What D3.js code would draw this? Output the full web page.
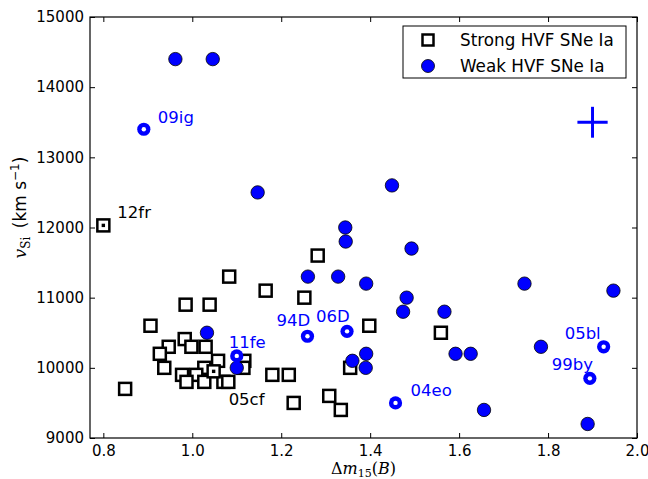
<!DOCTYPE html>
<html>
<head>
<meta charset="utf-8">
<script src="https://cdn.jsdelivr.net/npm/d3@7"></script>
<style>
  body { margin: 0; background: #fff; }
  svg text { font-family: "DejaVu Sans", sans-serif; }
</style>
</head>
<body>
<div id="chart"></div>
<script>
// Strong HVF SNe Ia: [dm15, vSi]
const strongX = [1.083, 1.165, 0.985, 1.039, 0.906, 0.983, 0.947, 0.998, 1.030, 0.927,
  1.058, 1.117, 1.115, 0.937, 1.027, 0.977, 1.009, 0.987, 1.027, 1.070, 1.081, 1.180,
  1.217, 1.228, 0.849, 1.282, 1.252, 1.398, 1.559, 1.355, 1.308, 1.334];
const strongY = [11300, 11100, 10900, 10900, 10600, 10410, 10300, 10300, 10300, 10200,
  10100, 10100, 10000, 10000, 10000, 9900, 9900, 9800, 9800, 9800, 9800, 9900,
  9900, 9500, 9700, 11600, 11000, 10600, 10500, 10000, 9600, 9400];

// Weak HVF SNe Ia
const weakX = [0.962, 1.046, 1.147, 1.344, 1.345, 1.449, 1.493, 1.260, 1.328, 1.391,
  1.482, 1.474, 1.567, 1.391, 1.390, 1.360, 1.592, 1.626, 1.656, 1.747, 1.947, 1.784,
  1.889, 1.033, 1.100];
const weakY = [14400, 14400, 12500, 12000, 11800, 12600, 11700, 11300, 11300, 11200,
  11000, 10800, 10800, 10200, 10000, 10100, 10200, 10200, 9400, 11200, 11100, 10300,
  9200, 10500, 10000];

// labelled objects
const strongLabels = [
  { name: '12fr', x: 0.800, y: 12030, dx: 14, dy: -7 },
  { name: '05cf', x: 1.048, y: 9950, dx: 15, dy: 34 }
];
const weakLabels = [
  { name: '09ig', x: 0.891, y: 13400, dx: 14, dy: -6 },
  { name: '11fe', x: 1.100, y: 10170, dx: -8, dy: -8 },
  { name: '94D', x: 1.259, y: 10450, dx: -31, dy: -10 },
  { name: '06D', x: 1.348, y: 10520, dx: -31, dy: -9 },
  { name: '04eo', x: 1.457, y: 9500, dx: 15, dy: -7 },
  { name: '05bl', x: 1.925, y: 10300, dx: -39, dy: -8 },
  { name: '99by', x: 1.894, y: 9850, dx: -38, dy: -8 }
];

// typical error bar
const errX = 1.9, errY = 13500, errDx = 0.034, errDy = 220;

const xTicks = [0.8, 1.0, 1.2, 1.4, 1.6, 1.8, 2.0];
const yTicks = [9000, 10000, 11000, 12000, 13000, 14000, 15000];

const width = 648, height = 479;
const margin = { top: 17, right: 11, bottom: 41, left: 90 };

const svg = d3.select('#chart').append('svg')
  .attr('width', width)
  .attr('height', height);

const x = d3.scaleLinear().domain([0.77, 2.0]).range([margin.left, width - margin.right]);
const y = d3.scaleLinear().domain([9000, 15000]).range([height - margin.bottom, margin.top]);

const blue = '#0000ff';

// Axes with inward ticks
const tickLen = 5;
svg.append('g')
  .attr('transform', `translate(0,${y(9000)})`)
  .call(d3.axisBottom(x).tickValues(xTicks).tickFormat(d3.format('.1f')).tickSizeInner(-tickLen).tickSizeOuter(0).tickPadding(7))
  .call(g => g.select('.domain').remove())
  .call(g => g.selectAll('text').attr('font-size', '15px').attr('fill', '#000'));

svg.append('g')
  .attr('transform', `translate(0,${y(15000)})`)
  .call(d3.axisTop(x).tickValues(xTicks).tickFormat('').tickSizeInner(-tickLen).tickSizeOuter(0))
  .call(g => g.select('.domain').remove());

svg.append('g')
  .attr('transform', `translate(${x(0.77)},0)`)
  .call(d3.axisLeft(y).tickValues(yTicks).tickFormat(d3.format('d')).tickSizeInner(-tickLen).tickSizeOuter(0).tickPadding(6))
  .call(g => g.select('.domain').remove())
  .call(g => g.selectAll('text').attr('font-size', '15px').attr('fill', '#000'));

svg.append('g')
  .attr('transform', `translate(${x(2.0)},0)`)
  .call(d3.axisRight(y).tickValues(yTicks).tickFormat('').tickSizeInner(-tickLen).tickSizeOuter(0))
  .call(g => g.select('.domain').remove());

// frame
svg.append('rect')
  .attr('x', x(0.77)).attr('y', y(15000))
  .attr('width', x(2.0) - x(0.77)).attr('height', y(9000) - y(15000))
  .attr('fill', 'none').attr('stroke', '#000').attr('stroke-width', 1.2);

// Strong: open squares
const sq = 12;
const strong = strongX.map((d, i) => ({ x: d, y: strongY[i] }));
svg.append('g').selectAll('rect')
  .data(strong.concat(strongLabels))
  .join('rect')
  .attr('x', d => x(d.x) - sq / 2)
  .attr('y', d => y(d.y) - sq / 2)
  .attr('width', sq).attr('height', sq)
  .attr('fill', '#fff').attr('stroke', '#000').attr('stroke-width', 2.5);

svg.append('g').selectAll('rect')
  .data(strongLabels)
  .join('rect')
  .attr('x', d => x(d.x) - 1.7)
  .attr('y', d => y(d.y) - 1.7)
  .attr('width', 3.4).attr('height', 3.4)
  .attr('fill', '#000');

// Weak: filled blue circles
const weak = weakX.map((d, i) => ({ x: d, y: weakY[i] }));
svg.append('g').selectAll('circle')
  .data(weak)
  .join('circle')
  .attr('cx', d => x(d.x)).attr('cy', d => y(d.y))
  .attr('r', 6.7)
  .attr('fill', blue).attr('stroke', '#000').attr('stroke-width', 0.8);

// labelled weak: blue rings
const rings = svg.append('g').selectAll('g')
  .data(weakLabels)
  .join('g');
rings.append('circle')
  .attr('cx', d => x(d.x)).attr('cy', d => y(d.y))
  .attr('r', 6.6).attr('fill', blue);
rings.append('circle')
  .attr('cx', d => x(d.x)).attr('cy', d => y(d.y))
  .attr('r', 2.2).attr('fill', '#fff');

// labels
svg.append('g').selectAll('text')
  .data(strongLabels)
  .join('text')
  .attr('x', d => x(d.x) + d.dx)
  .attr('y', d => y(d.y) + d.dy)
  .attr('font-size', '16.5px').attr('fill', '#000')
  .text(d => d.name);

svg.append('g').selectAll('text')
  .data(weakLabels)
  .join('text')
  .attr('x', d => x(d.x) + d.dx)
  .attr('y', d => y(d.y) + d.dy)
  .attr('font-size', '16.5px').attr('fill', blue)
  .text(d => d.name);

// error cross
svg.append('line')
  .attr('x1', x(errX - errDx)).attr('x2', x(errX + errDx))
  .attr('y1', y(errY)).attr('y2', y(errY))
  .attr('stroke', blue).attr('stroke-width', 3);
svg.append('line')
  .attr('x1', x(errX)).attr('x2', x(errX))
  .attr('y1', y(errY - errDy)).attr('y2', y(errY + errDy))
  .attr('stroke', blue).attr('stroke-width', 3);

// Legend
const legend = svg.append('g');
legend.append('rect')
  .attr('x', 403).attr('y', 26).attr('width', 223).attr('height', 52)
  .attr('fill', '#fff').attr('stroke', '#000').attr('stroke-width', 1);
legend.append('rect')
  .attr('x', 428 - 5.5).attr('y', 40 - 5.5).attr('width', 11).attr('height', 11)
  .attr('fill', '#fff').attr('stroke', '#000').attr('stroke-width', 2.5);
legend.append('circle')
  .attr('cx', 428).attr('cy', 66).attr('r', 6.5)
  .attr('fill', blue).attr('stroke', '#000').attr('stroke-width', 0.8);
legend.append('text').attr('x', 460).attr('y', 46)
  .attr('font-size', '16.8px').text('Strong HVF SNe Ia');
legend.append('text').attr('x', 460).attr('y', 72)
  .attr('font-size', '16.8px').text('Weak HVF SNe Ia');

// Axis labels
const xl = svg.append('text')
  .attr('x', (x(0.77) + x(2.0)) / 2).attr('y', 474)
  .attr('text-anchor', 'middle')
  .style('font-family', '"DejaVu Serif", serif')
  .attr('font-size', '16px');
xl.append('tspan').text('Δ');
xl.append('tspan').attr('font-style', 'italic').text('m');
xl.append('tspan').attr('font-size', '11px').attr('dy', 3).text('15');
xl.append('tspan').attr('dy', -3).text('(');
xl.append('tspan').attr('font-style', 'italic').text('B');
xl.append('tspan').text(')');

const yl = svg.append('text')
  .attr('transform', `translate(26,${(y(9000) + y(15000)) / 2 - 20}) rotate(-90)`)
  .attr('text-anchor', 'middle')
  .attr('font-size', '17px');
yl.append('tspan').style('font-family', '"DejaVu Serif", serif').attr('font-style', 'italic').text('v');
yl.append('tspan').style('font-family', '"DejaVu Serif", serif').attr('font-size', '12px').attr('dy', 4).text('Si');
yl.append('tspan').attr('dy', -4).text('\u2002(km s');
yl.append('tspan').attr('font-size', '12px').attr('dy', -7).text('−1');
yl.append('tspan').attr('dy', 7).text(')');
</script>
</body>
</html>
